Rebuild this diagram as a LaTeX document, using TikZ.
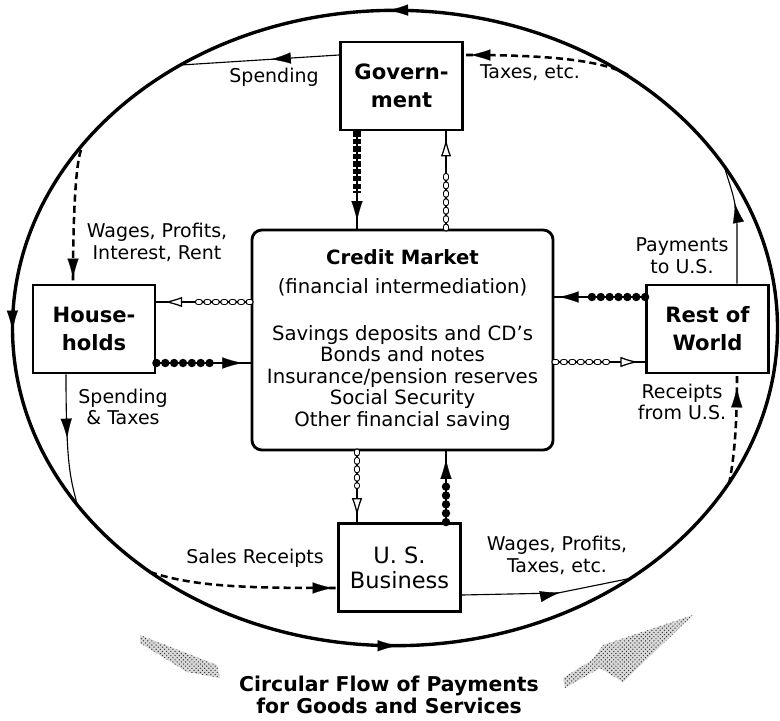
\documentclass[tikz,border=0pt]{standalone}
\usepackage{fontspec}
\setmainfont{DejaVu Sans}
\usetikzlibrary{calc, positioning}
\usetikzlibrary{arrows.meta}
\usetikzlibrary{decorations.markings}
\usetikzlibrary{patterns}

\tikzset{
  >={Latex[length=14pt,width=8pt,line width=0.1pt]},
  sector/.style={draw, line width=2pt, align=center, inner sep=0pt, minimum width=3.05cm, minimum height=2.2cm, font=\fontsize{15}{20}\selectfont\bfseries},
  lbl/.style={align=center, inner sep=0pt, font=\fontsize{13.5}{15.5}\selectfont},
  cash/.style={line width=0.8pt},
  dues/.style={line width=1.8pt, dash pattern=on 5pt off 3pt},
  beads/.style={line width=6pt, line cap=round, dash pattern=on 0pt off 6.3pt},
  links/.style={double, line width=0.9pt, double distance=2.6pt, line cap=round, dash pattern=on 1.4pt off 4.6pt},
  blocks/.style={line width=5.5pt, dash pattern=on 3.8pt off 1.5pt},
  stipple/.style={fill=gray!30, postaction={pattern=crosshatch dots, pattern color=black!80}},
  tipat/.style={postaction={decorate, decoration={markings, mark=at position #1 with {\arrow{>}}}}},
  opentipat/.style={postaction={decorate, decoration={markings, mark=at position #1 with {\arrow{Latex[fill=white,length=13pt,width=7.5pt,line width=0.9pt]}}}}},
}

\begin{document}
\begin{tikzpicture}[x=0.025cm, y=-0.025cm]
\useasboundingbox (0,0) rectangle (780,721);

% the big loop
\draw[line width=2.4pt, postaction={decorate, decoration={markings,
    mark=at position 0.253 with {\arrow{>}},
    mark=at position 0.501 with {\arrow{>}},
    mark=at position 0.751 with {\arrow{>}}}}]
  (395,328) ellipse [x radius=9.56cm, y radius=7.94cm];

% sectors
\node[sector] (gov) at (401.5,86) {Govern-\\ment};
\node[sector] (hh) at (94,329) {House-\\holds};
\node[sector] (row) at (707.5,329) {Rest of\\World};
\node[sector, font=\fontsize{16}{18}\selectfont] (bus) at (399.5,567.5) {U. S.\\Business};
\node[draw, line width=2pt, rounded corners=7pt, minimum width=7.525cm, minimum height=5.5cm,
      align=center, inner sep=0pt, font=\fontsize{14}{15.3}\selectfont] (cm) at (402.5,340)
  {\textbf{Credit Market}\\[5pt](financial intermediation)\\[18pt]Savings deposits and CD's\\Bonds and notes\\Insurance/pension reserves\\Social Security\\Other financial saving};

\coordinate (lcol) at (357,0);
\coordinate (rcol) at (446,0);
\coordinate (hhup) at (0,302);
\coordinate (hhlow) at (0,363);
\coordinate (rwup) at (0,297);
\coordinate (rwlow) at (0,362);
\coordinate (govrow) at (0,55);
\coordinate (wagecol) at (73,0);
\coordinate (stcol) at (66,0);
\coordinate (salesrow) at (0,588);
\coordinate (busrow) at (0,595);
\coordinate (paycol) at (737,0);

% where the flows meet the loop
\coordinate (spendend) at (181,65);
\coordinate (taxend) at (628,75);
\coordinate (wageend) at (81,150);
\coordinate (stend) at (77,504);
\coordinate (salesend) at (150,572);
\coordinate (busend) at (632,578);
\coordinate (payend) at (724,165);
\coordinate (recend) at (729,484);

% payments
\draw[cash, tipat=0.43] (gov.west |- govrow) -- (spendend);
\draw[dues, tipat=0.96] (taxend) .. controls +(-30,-18) and +(60,0) .. (gov.east |- govrow);
\draw[dues, tipat=0.96] (wageend) .. controls +(-7,20) and +(0,-40) .. (hh.north -| wagecol);
\draw[cash, tipat=0.49] (hh.south -| stcol) .. controls +(0,95) and +(-6,-25) .. (stend);
\draw[dues, tipat=0.975] (salesend) .. controls +(45,15) and +(-90,0) .. (bus.west |- salesrow);
\draw[cash, tipat=0.57] (bus.east |- busrow) -- ++(96,-2) -- (busend);
\draw[cash, tipat=0.67] (row.north -| paycol) -- ++(0,-55) .. controls +(0,-30) and +(5,20) .. (payend);
\draw[dues, tipat=0.88] (recend) .. controls +(6,-30) and +(0,45) .. (row.south -| paycol);

% funds through the credit market
\draw[cash, tipat=0.92] (gov.south -| lcol) -- (cm.north -| lcol);
\draw[blocks, shorten >=0.9cm] (gov.south -| lcol) -- (cm.north -| lcol);
\draw[cash, opentipat=0.93] (cm.north -| rcol) -- (gov.south -| rcol);
\draw[links, shorten >=1.05cm] (cm.north -| rcol) -- (gov.south -| rcol);

\draw[cash, opentipat=0.92] (cm.west |- hhup) -- (hh.east |- hhup);
\draw[links, shorten >=1cm] (cm.west |- hhup) -- (hh.east |- hhup);
\draw[cash, tipat=0.91] (hh.east |- hhlow) -- (cm.west |- hhlow);
\draw[beads, shorten >=0.9cm] (hh.east |- hhlow) -- (cm.west |- hhlow);

\draw[cash, tipat=0.95] (row.west |- rwup) -- (cm.east |- rwup);
\draw[beads, shorten >=0.75cm] (row.west |- rwup) -- (cm.east |- rwup);
\draw[cash, opentipat=0.93] (cm.east |- rwlow) -- (row.west |- rwlow);
\draw[links, shorten >=0.85cm] (cm.east |- rwlow) -- (row.west |- rwlow);

\draw[cash, opentipat=0.92] (cm.south -| lcol) -- (bus.north -| lcol);
\draw[links, shorten >=0.9cm] (cm.south -| lcol) -- (bus.north -| lcol);
\draw[cash, tipat=0.89] (bus.north -| rcol) -- (cm.south -| rcol);
\draw[beads, shorten >=0.8cm] (bus.north -| rcol) -- (cm.south -| rcol);

% labels
\node[lbl] (spendlbl) at (274,77) {Spending};
\node[lbl] (taxlbl) at (530,73) {Taxes, etc.};
\node[lbl] (wagelbl) at (157,242) {Wages, Profits,\\Interest, Rent};
\node[lbl] (stlbl) at (123,407) {Spending\\\& Taxes};
\node[lbl] (saleslbl) at (255,558) {Sales Receipts};
\node[lbl] (buslbl) at (557,555) {Wages, Profits,\\Taxes, etc.};
\node[lbl] (paylbl) at (682,256) {Payments\\to U.S.};
\node[lbl] (reclbl) at (682,402) {Receipts\\from U.S.};
\node[lbl, font=\fontsize{14.5}{15.8}\selectfont\bfseries] (title) at (389,695) {Circular Flow of Payments\\for Goods and Services};

% shaded direction arrows
\fill[stipple] (140,635) -- (217,665) -- (220,678) -- (187,672) -- (140,643) -- cycle;
\fill[stipple] (563,678) -- (592,660) -- (603,645) -- (693,615) -- (623,682) -- (600,668) -- (565,688) -- cycle;
\end{tikzpicture}
\end{document}
